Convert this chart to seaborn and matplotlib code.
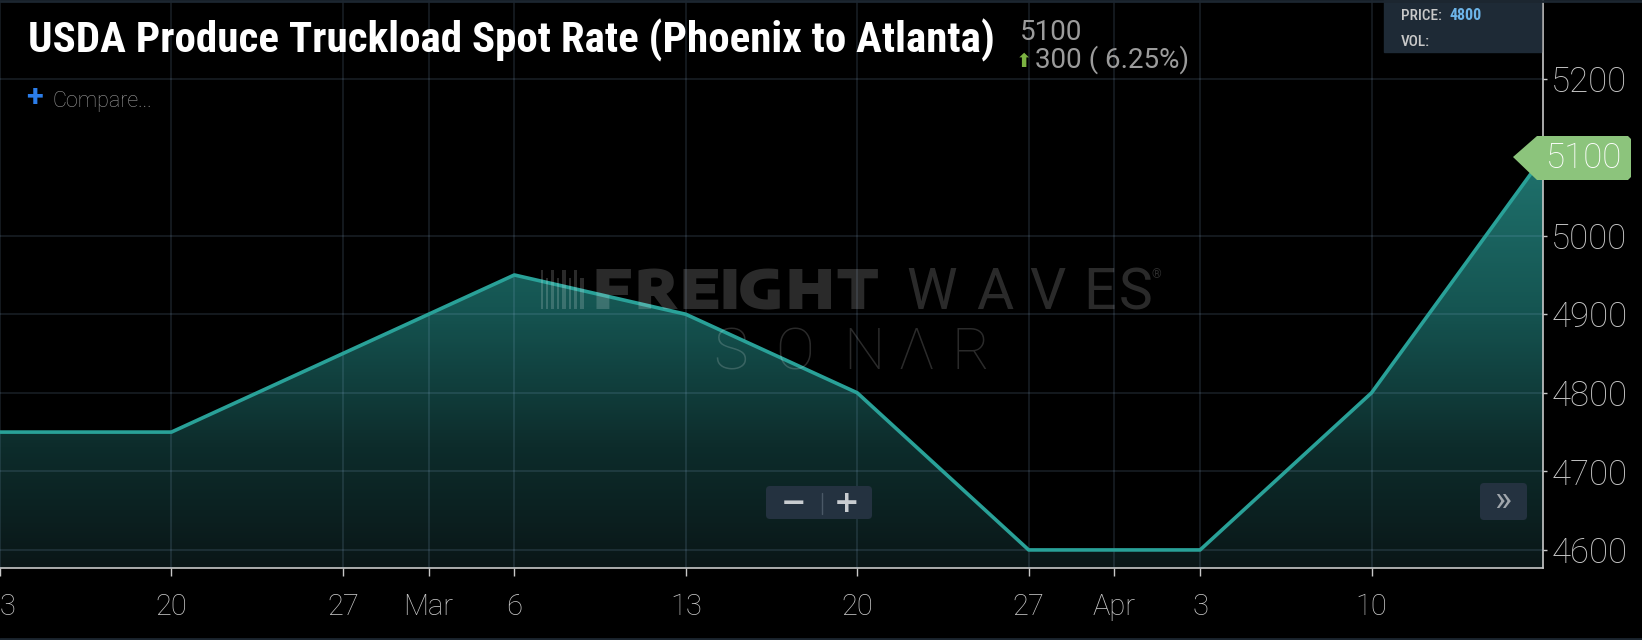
import matplotlib
matplotlib.use("Agg")
import matplotlib.pyplot as plt
from matplotlib import font_manager as fm
from matplotlib.colors import LinearSegmentedColormap
from matplotlib.patches import FancyBboxPatch, Polygon
import numpy as np
import pandas as pd
import seaborn as sns

# --- data (weekly spot rate, USD) ---
fechas = ["2021-02-13", "2021-02-20", "2021-02-27", "2021-03-06", "2021-03-13",
          "2021-03-20", "2021-03-27", "2021-04-03", "2021-04-10", "2021-04-17"]
tarifas = [4750, 4750, 4850, 4950, 4900, 4800, 4600, 4600, 4800, 5100]
tick_fechas = ["2021-02-13", "2021-02-20", "2021-02-27", "2021-03-02 12:00", "2021-03-06",
               "2021-03-13", "2021-03-20", "2021-03-27", "2021-03-30 12:00", "2021-04-03",
               "2021-04-10"]
tick_labels = ["13", "20", "27", "Mar", "6", "13", "20", "27", "Apr", "3", "10"]
y_ticks = [4600, 4700, 4800, 4900, 5000, 5200]
titulo = "USDA Produce Truckload Spot Rate (Phoenix to Atlanta)"
ultimo, cambio, cambio_pct, precio_cursor = 5100, 300, 6.25, 4800

sns.set_theme(style="dark")
avail = {f.name for f in fm.fontManager.ttflist}


def pick(cands, default="Roboto"):
    for c in cands:
        if c in avail:
            return c
    return default


COND = pick(["Roboto Condensed", "Liberation Sans Narrow", "Open Sans Condensed",
             "Barlow Condensed"])
WIDE = pick(["Encode Sans Expanded", "Montserrat", "Archivo", "Roboto"])
plt.rcParams["font.family"] = ["Roboto", "DejaVu Sans"]

t0 = pd.Timestamp(fechas[0])
df = pd.DataFrame({"fecha": pd.to_datetime(fechas), "tarifa": tarifas})
df["dia"] = (df["fecha"] - t0).dt.total_seconds() / 86400
tick_pos = [(pd.Timestamp(t) - t0).total_seconds() / 86400 for t in tick_fechas]

W, H = 1642, 640
fig = plt.figure(figsize=(W / 100, H / 100), dpi=100, facecolor="black")
ax = fig.add_axes([0, 72 / H, 1543 / W, 1 - 72 / H])
ax.set_facecolor("black")

ymin, ymax = 4577, 5300
ax.set_xlim(0, df["dia"].max())
ax.set_ylim(ymin, ymax)

# gradient fill under the line
poly = ax.fill_between(df["dia"], df["tarifa"], ymin, facecolor="none", edgecolor="none")
cmap = LinearSegmentedColormap.from_list("fw", ["#0a1617", "#0d2c2b", "#155552", "#1f726d"])
grad = np.linspace(0, 1, 256).reshape(-1, 1) ** 0.9
img = ax.imshow(grad, cmap=cmap, origin="lower", aspect="auto", zorder=1,
                extent=(0, df["dia"].max(), ymin, max(tarifas)))
img.set_clip_path(poly.get_paths()[0], transform=ax.transData)

sns.lineplot(data=df, x="dia", y="tarifa", ax=ax, color="#29a198", lw=2.6, zorder=4)

ax.set_xticks(tick_pos)
ax.set_xticklabels(tick_labels)
ax.set_yticks(y_ticks)
ax.set_yticklabels([str(v) for v in y_ticks])
ax.yaxis.tick_right()
ax.set_xlabel("")
ax.set_ylabel("")
ax.set_axisbelow(False)
ax.grid(True, color=(0.6, 0.75, 0.9), alpha=0.17, lw=1.1)
ax.tick_params(axis="x", colors="#c8c8c8", labelcolor="#c8c8c8", labelsize=21,
               length=6, width=1, pad=12, direction="out", bottom=True)
ax.tick_params(axis="y", colors="#c8c8c8", labelcolor="#c8c8c8", labelsize=25,
               length=3, width=1, pad=3, direction="out", right=True, left=False)
for lab in ax.get_yticklabels() + ax.get_xticklabels():
    lab.set_fontweight("light")
for s in ["top", "left"]:
    ax.spines[s].set_visible(False)
for s in ["bottom", "right"]:
    ax.spines[s].set_visible(True)
    ax.spines[s].set_color("#c8c8c8")
    ax.spines[s].set_linewidth(1.2)

# overlay in pixel coordinates for the chart chrome
ov = fig.add_axes([0, 0, 1, 1], zorder=10)
ov.set_xlim(0, W)
ov.set_ylim(H, 0)
ov.axis("off")
ov.patch.set_alpha(0)

ov.plot([0, W], [1, 1], color="#1c2630", lw=2)
ov.plot([0, W], [638.5, 638.5], color="#1c2630", lw=2)

ov.text(28, 53, titulo, color="white", fontsize=31, fontweight="bold",
        family=[COND, "Roboto", "DejaVu Sans"], va="baseline", ha="left")
ov.text(1020, 40, f"{ultimo}", color="#9b9b9b", fontsize=20, va="baseline")
ov.text(1016, 67, "\u2b06", color="#7cb342", fontsize=14, va="baseline",
        family=["DejaVu Sans"])
ov.text(1035, 68, f"{cambio} ( {cambio_pct:.2f}%)", color="#9b9b9b", fontsize=20,
        va="baseline")

ov.text(26, 97, "+", color="#2b7de9", fontsize=22, fontweight="bold", va="center")
ov.text(52, 101, "Compare...", color="#9a9a9a", fontsize=15.5, fontweight="light",
        va="center")

# price box
ov.add_patch(plt.Rectangle((1384, 0), 157, 52, color="#1e2a36", zorder=1))
ov.text(1401, 16, "PRICE:", color="#c8c8c8", fontsize=11, fontweight="medium",
        family=[COND, "Roboto"], va="center")
ov.text(1449, 16, f"{precio_cursor}", color="#6cb4e8", fontsize=11.5, fontweight="bold",
        family=[COND, "Roboto"], va="center")
ov.text(1401, 42, "VOL:", color="#c8c8c8", fontsize=11, fontweight="medium",
        family=[COND, "Roboto"], va="center")

# watermark
wm = (1, 1, 1, 0.17)
for i, (bx, bw) in enumerate([(541, 2), (546, 2), (551, 3), (557, 2), (562, 4),
                              (569, 2), (574, 3), (580, 4)]):
    top = 270 if i % 2 == 0 else 278
    ov.add_patch(plt.Rectangle((bx, top), bw, 309 - top, color=wm, lw=0))
for ch, cx in zip("FREIGHT", [612, 656, 700, 729, 761, 810, 857]):
    ov.text(cx, 309, ch, color=wm, fontsize=39, fontweight="black", va="baseline",
            ha="center", family=[WIDE, "Roboto"])
for ch, cx in zip("WAVES", [932, 995, 1047, 1100, 1136]):
    ov.text(cx, 309, ch, color=wm, fontsize=41, fontweight="normal",
            va="baseline", ha="center")
ov.text(1152, 275, "\u00ae", color=wm, fontsize=9, va="center")
for ch, cx in zip("SON\u039bR", [730, 795, 864, 916, 971]):
    ov.text(cx, 369, ch, color=wm, fontsize=42, fontweight="light",
            va="baseline", ha="center")

# zoom buttons
ov.add_patch(FancyBboxPatch((766, 486), 106, 33, boxstyle="round,pad=0,rounding_size=4",
                            color="#243240", lw=0))
ov.text(793, 503, "\u2212", color="#c8ccd0", fontsize=22, fontweight="bold",
        ha="center", va="center", family=["DejaVu Sans"])
ov.plot([822, 822], [493, 514], color="#4a5866", lw=1)
ov.text(847, 503, "+", color="#c8ccd0", fontsize=22, fontweight="bold",
        ha="center", va="center", family=["DejaVu Sans"])
ov.add_patch(FancyBboxPatch((1480, 483), 47, 37, boxstyle="round,pad=0,rounding_size=4",
                            color="#243240", lw=0))
ov.text(1503, 501, "\u00bb", color="#a0a6ac", fontsize=26, ha="center", va="center")

# last value tag
ov.add_patch(Polygon([(1513, 157), (1537, 136), (1628, 136), (1631, 139), (1631, 177),
                      (1628, 180), (1537, 180)], closed=True, color="#8cc47c", lw=0))
ov.text(1584, 158, f"{ultimo}", color="white", fontsize=25, fontweight="light",
        ha="center", va="center")

fig.savefig("out.png", dpi=100, facecolor="black")
